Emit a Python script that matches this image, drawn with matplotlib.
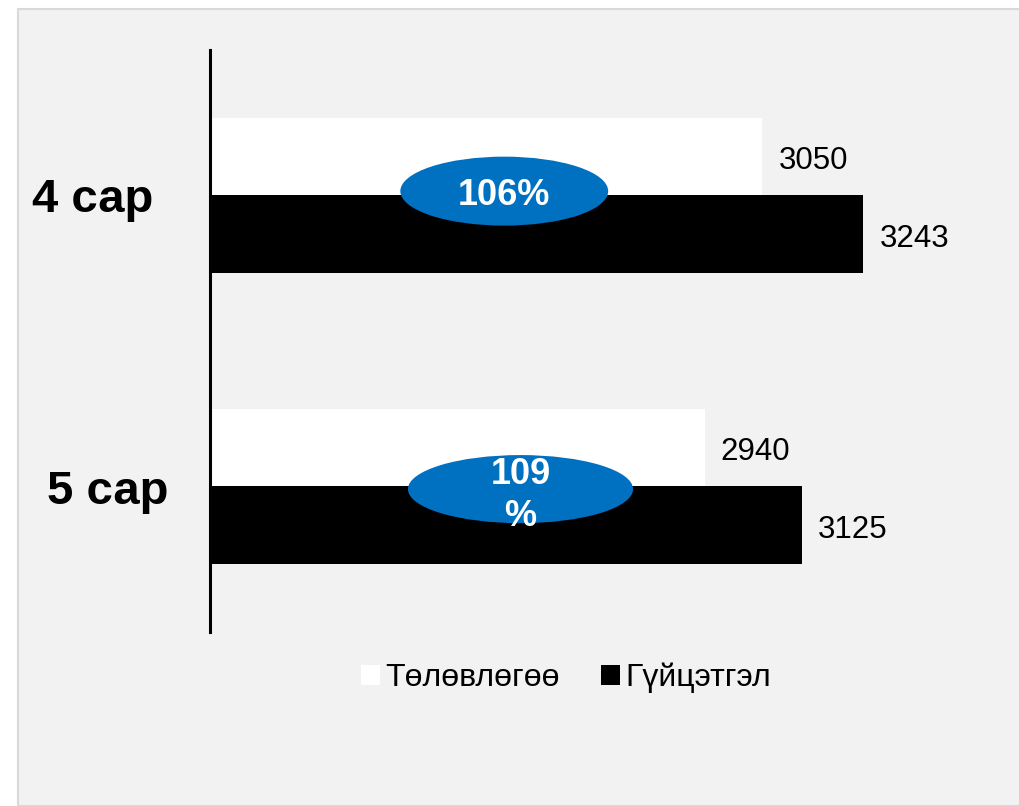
import matplotlib
matplotlib.use("Agg")
import matplotlib.pyplot as plt
from matplotlib.patches import Rectangle, Ellipse, Patch

categories = ["4 сар", "5 сар"]
plan = [3050, 2940]
actual = [3243, 3125]
series_names = ["Төлөвлөгөө", "Гүйцэтгэл"]
pct_labels = ["106%", "109\n%"]

plt.rcParams['font.family'] = ['Liberation Sans', 'DejaVu Sans']

fig = plt.figure(figsize=(10.2, 8.06), dpi=100)
fig.patch.set_facecolor('white')
W, H = 1020, 806
bg = Rectangle((18 / W, 0), 1.0, 1 - 9 / H, transform=fig.transFigure,
               facecolor='#f2f2f2', edgecolor='#d9d9d9', linewidth=1.5, zorder=-10)
fig.add_artist(bg)

ax = fig.add_axes([210 / W, 1 - 632 / H, 788 / W, 582 / H])
ax.set_facecolor('none')
ax.set_zorder(1)

h = 0.268
ys = list(range(len(categories)))
ax.barh([y - h / 2 for y in ys], plan, height=h, color='white', label=series_names[0], zorder=2)
ax.barh([y + h / 2 for y in ys], actual, height=h, color='black', label=series_names[1], zorder=2)

ax.set_xlim(1995, 3500)
ax.set_ylim(1.5, -0.5)

for y, v in zip(ys, plan):
    ax.annotate(str(v), (v, y - h / 2), xytext=(16, -1), textcoords='offset pixels',
                va='center_baseline', ha='left', fontsize=22.5, color='black')
for y, v in zip(ys, actual):
    ax.annotate(str(v), (v, y + h / 2), xytext=(16, -1), textcoords='offset pixels',
                va='center_baseline', ha='left', fontsize=22.5, color='black')

ell = [(2557, -0.015, 397, 0.237), (2588, 1.009, 430, 0.234)]
txt_off = [-14, -37]
for (cx, cy, ew, eh), lab, dy in zip(ell, pct_labels, txt_off):
    ax.add_patch(Ellipse((cx, cy), ew, eh, facecolor='#0070c0', edgecolor='none', zorder=3))
    ax.annotate(lab, (cx, cy), xytext=(0, dy), textcoords='offset pixels',
                ha='center', va='baseline', color='white', fontsize=26,
                fontweight='bold', zorder=4, linespacing=1.25, multialignment='center')

# category labels (left of the axis line)
cat_dx = [-57, -41]
for y, lab, dx in zip(ys, categories, cat_dx):
    ax.annotate(lab, (0, y), xycoords=ax.get_yaxis_transform(), xytext=(dx, -17),
                textcoords='offset pixels', ha='right', va='baseline',
                fontsize=34, fontweight='bold', color='black', annotation_clip=False)

ax.set_yticks([])
ax.set_xticks([])
for s in ['top', 'right', 'bottom']:
    ax.spines[s].set_visible(False)
ax.spines['left'].set_linewidth(2.2)
ax.spines['left'].set_color('black')

handles = [Patch(facecolor='white', edgecolor='none'), Patch(facecolor='black', edgecolor='none')]
fig.legend(handles, series_names, loc='center', bbox_to_anchor=(566 / W, 1 - 678 / H),
           ncol=2, frameon=False, fontsize=23, handlelength=0.6, handleheight=0.6,
           handletextpad=0.15, columnspacing=1.3)

fig.savefig('out.png', dpi=100, facecolor=fig.get_facecolor())
